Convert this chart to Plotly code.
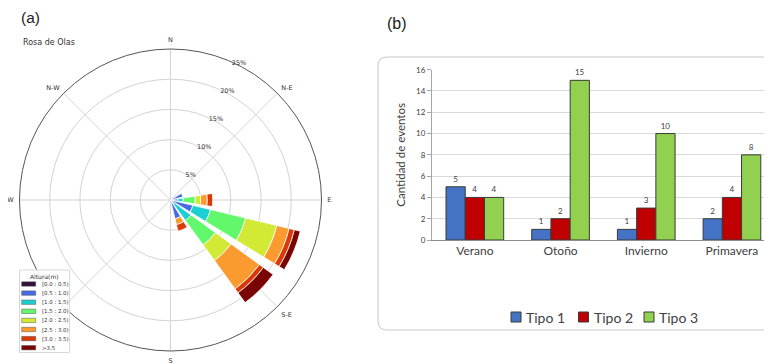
import plotly.graph_objects as go

# page is placed with an 8px body margin, so the figure is 8px smaller and
# all reference pixel positions are shifted by -8
OFF = 8
W, H = 772 - OFF, 364 - OFF


def px(x):
    return (x - OFF) / W


def py(y):
    return (H - (y - OFF)) / H


# ---------------- data: wave rose ----------------
directions = [67.5, 90, 112.5, 135, 157.5]
bin_labels = ["[0.0 : 0.5)", "[0.5 : 1.0)", "[1.0 : 1.5)", "[1.5 : 2.0)",
              "[2.0 : 2.5)", "[2.5 : 3.0)", "[3.0 : 3.5)", ">3.5"]
bin_colors = ["#30123b", "#466be3", "#1bcfd4", "#62f86b",
              "#d2e935", "#fb9a2f", "#db3a07", "#7a0403"]
freq_b0 = [0.2, 0.2, 0.3, 0.3, 0.3]
freq_b1 = [1.9, 1.0, 3.5, 0.5, 2.9]
freq_b2 = [0.0, 0.9, 3.0, 3.4, 0.0]
freq_b3 = [0.0, 2.0, 6.0, 5.0, 0.0]
freq_b4 = [0.0, 0.9, 5.3, 3.2, 0.0]
freq_b5 = [0.0, 1.1, 2.1, 5.8, 1.0]
freq_b6 = [0.0, 0.9, 0.9, 0.8, 1.1]
freq_b7 = [0.0, 0.0, 1.0, 2.0, 0.0]
freqs = [freq_b0, freq_b1, freq_b2, freq_b3, freq_b4, freq_b5, freq_b6, freq_b7]

dir_ticks = [0, 45, 90, 135, 180, 225, 270, 315]
dir_labels = ["N", "N-E", "E", "S-E", "S", "S-W", "W", "N-W"]
r_ticks = [5, 10, 15, 20, 25]
r_labels = ["5%", "10%", "15%", "20%", "25%"]

# ---------------- data: events ----------------
seasons = ["Verano", "Otoño", "Invierno", "Primavera"]
tipo1 = [5, 1, 1, 2]
tipo2 = [4, 2, 3, 4]
tipo3 = [4, 15, 10, 8]
tipo_names = ["Tipo 1", "Tipo 2", "Tipo 3"]
tipo_colors = ["#4472C4", "#C00000", "#92D050"]
y_ticks = [0, 2, 4, 6, 8, 10, 12, 14, 16]

fig = go.Figure()

for lab, col, vals in zip(bin_labels, bin_colors, freqs):
    fig.add_trace(go.Barpolar(
        r=vals, theta=directions, width=[18] * len(directions),
        name=lab, marker=dict(color=col, line=dict(color="white", width=0.8)),
        showlegend=False, subplot="polar"))

for name, col, vals in zip(tipo_names, tipo_colors, [tipo1, tipo2, tipo3]):
    fig.add_trace(go.Bar(
        x=seasons, y=vals, name=name,
        marker=dict(color=col, line=dict(color="#3a3a3a", width=1)),
        text=vals, textposition="outside",
        textfont=dict(family="Lato", size=8, color="#404040"),
        cliponaxis=False, xaxis="x", yaxis="y", showlegend=False))

cx, cy, R = 170.5, 200, 151
fig.update_layout(
    width=W, height=H, margin=dict(l=0, r=0, t=0, b=0, autoexpand=False),
    paper_bgcolor="white", plot_bgcolor="white",
    font=dict(family="DejaVu Sans", color="#333333"),
    showlegend=False,
    polar=dict(
        domain=dict(x=[px(cx - R), px(cx + R)], y=[py(cy + R), py(cy - R)]),
        bgcolor="white", barmode="stack",
        angularaxis=dict(direction="clockwise", rotation=90,
                         tickmode="array", tickvals=dir_ticks, ticktext=dir_labels,
                         tickfont=dict(size=6.5, color="#333333"),
                         ticks="outside", ticklen=4, tickcolor="rgba(0,0,0,0)",
                         showline=True, linecolor="#555555", linewidth=1,
                         gridcolor="#d3d3d3", gridwidth=1),
        radialaxis=dict(range=[0, 25], tickmode="array", tickvals=r_ticks, ticktext=r_labels,
                        angle=67.5, tickangle=67.5, showline=False, ticks="",
                        tickfont=dict(size=6.5, color="#333333"),
                        gridcolor="#d3d3d3", gridwidth=1)),
    xaxis=dict(domain=[px(432), 1.0], range=[-0.5, -0.5 + (772 - 432) / 85.7], showgrid=False,
               showline=True, linecolor="#8c8c8c", linewidth=1, ticks="",
               tickfont=dict(family="Lato", size=12, color="#404040"),
               automargin=False, anchor="y"),
    yaxis=dict(domain=[py(240), py(69.7)], range=[0, 16],
               tickmode="array", tickvals=y_ticks,
               showgrid=True, gridcolor="#d9d9d9", gridwidth=1,
               showline=True, linecolor="#a6a6a6", linewidth=1,
               ticks="outside", ticklen=4, tickcolor="#a6a6a6",
               tickfont=dict(family="Lato", size=8, color="#404040"),
               title=dict(text="Cantidad de eventos", standoff=8,
                          font=dict(family="Lato", size=11.5, color="#404040")),
               zeroline=False, automargin=False, anchor="x"),
    barmode="group", bargap=0.327, bargroupgap=0,
)

shapes = []
annotations = []

# rounded panel box for (b)
x0, x1 = px(378), 1.0
y0, y1 = py(330), py(57)
rx, ry = 9 / W, 9 / H
path = (f"M {x1},{y1} L {x0 + rx},{y1} Q {x0},{y1} {x0},{y1 - ry} "
        f"L {x0},{y0 + ry} Q {x0},{y0} {x0 + rx},{y0} L {x1},{y0}")
shapes.append(dict(type="path", xref="paper", yref="paper", path=path,
                   line=dict(color="#c8c8c8", width=1), layer="below"))

# panel labels and rose title
annotations.append(dict(text="(a)", x=px(19), y=py(17), xref="paper", yref="paper",
                        xanchor="left", yanchor="middle", showarrow=False,
                        font=dict(family="Liberation Sans", size=15.5, color="#222222")))
annotations.append(dict(text="(b)", x=px(385), y=py(23), xref="paper", yref="paper",
                        xanchor="left", yanchor="middle", showarrow=False,
                        font=dict(family="Liberation Sans", size=16, color="#222222")))
annotations.append(dict(text="Rosa de Olas", x=px(21), y=py(42), xref="paper", yref="paper",
                        xanchor="left", yanchor="middle", showarrow=False,
                        font=dict(family="DejaVu Sans", size=8, color="#333333")))

# wave-height legend
lx0, lx1, ly0, ly1 = 19.5, 69.5, 270, 352.5
shapes.append(dict(type="rect", xref="paper", yref="paper",
                   x0=px(lx0), x1=px(lx1), y0=py(ly1), y1=py(ly0),
                   line=dict(color="#d8d8d8", width=1), fillcolor="rgba(255,255,255,0.88)"))
annotations.append(dict(text="Altura(m)", x=px((lx0 + lx1) / 2), y=py(276),
                        xref="paper", yref="paper", xanchor="center", yanchor="middle",
                        showarrow=False, font=dict(family="DejaVu Sans", size=6, color="#333333")))
for i, (lab, col) in enumerate(zip(bin_labels, bin_colors)):
    yc = 284 + i * 9.1
    shapes.append(dict(type="rect", xref="paper", yref="paper",
                       x0=px(21.7), x1=px(35.7), y0=py(yc + 2.2), y1=py(yc - 2.2),
                       line=dict(color="#555555", width=0.5), fillcolor=col))
    annotations.append(dict(text=lab, x=px(40), y=py(yc), xref="paper", yref="paper",
                            xanchor="left", yanchor="middle", showarrow=False,
                            font=dict(family="DejaVu Sans", size=5.4, color="#333333")))

# event-type legend
leg_x = [511, 578.5, 644]
for name, col, lx in zip(tipo_names, tipo_colors, leg_x):
    shapes.append(dict(type="rect", xref="paper", yref="paper",
                       x0=px(lx), x1=px(lx + 10), y0=py(322), y1=py(312),
                       line=dict(color="#3a3a3a", width=1), fillcolor=col))
    annotations.append(dict(text=name, x=px(lx + 13), y=py(317), xref="paper", yref="paper",
                            xanchor="left", yanchor="middle", showarrow=False,
                            font=dict(family="Lato", size=14, color="#404040")))

fig.update_layout(shapes=shapes, annotations=annotations)
fig.write_html("out.html")
